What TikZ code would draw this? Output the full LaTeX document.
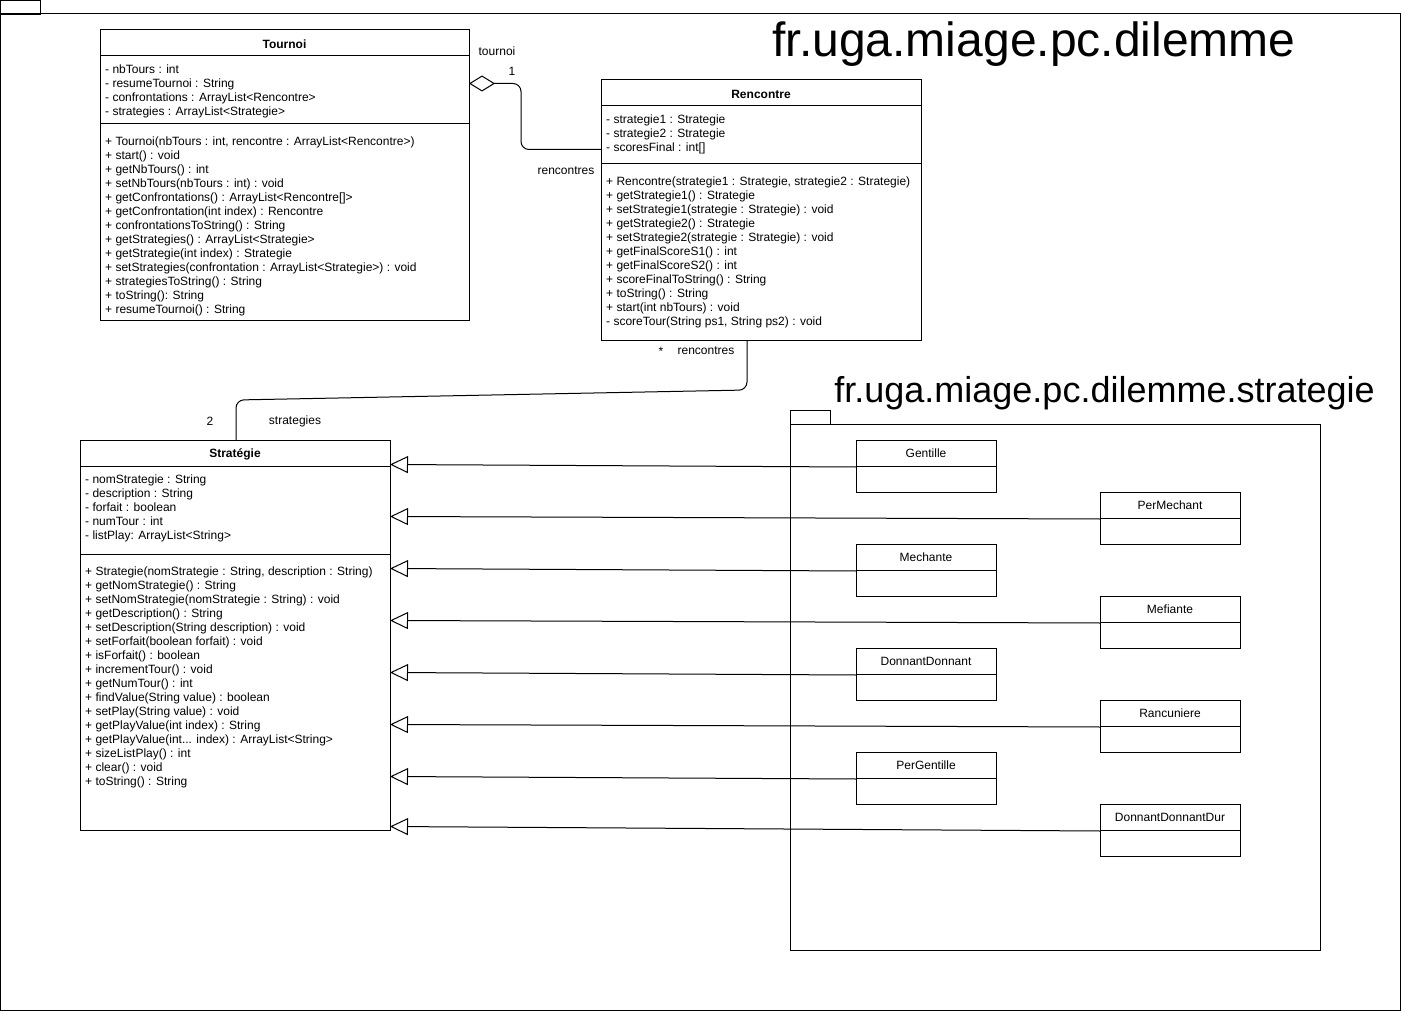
\documentclass[tikz,border=0pt]{standalone}
\usepackage{fontspec}
\setmainfont{Liberation Sans}
\usetikzlibrary{arrows.meta}
\begin{document}
\begin{tikzpicture}[x=1pt,y=-1pt,
  box/.style={draw, line width=1pt, inner sep=0pt, outer sep=0pt, anchor=north west},
  hdr/.style={font=\fontsize{12}{14}\selectfont\bfseries, inner sep=0pt},
  lbl/.style={font=\fontsize{12}{14}\selectfont, inner sep=0pt},
  members/.style={font=\fontsize{12}{14}\selectfont, align=left, inner sep=0pt, anchor=north west},
  sepline/.style={line width=1pt},
  gen/.style={line width=1pt, -{Triangle[open, length=18pt, width=17pt, fill=white]}},
  agg/.style={line width=1pt, rounded corners=8pt, {Diamond[open, length=26pt, width=16pt, fill=white]}-},
  assoc/.style={line width=1pt, rounded corners=8pt},
  small/.style={box, minimum width=140pt, minimum height=52pt}
]
\useasboundingbox (0,0) rectangle (1401,1011);

% outer package
\node[box, minimum width=40pt, minimum height=14pt] (tab1) at (0,0.5) {};
\node[box, minimum width=1400pt, minimum height=996pt] (pkg1) at (0,14) {};
\node[font=\fontsize{48}{48}\selectfont, inner sep=0pt, anchor=base] (title1) at (1034,57) {fr.uga.miage.pc.dilemme};

% Tournoi
\node[box, minimum width=369pt, minimum height=290pt] (tournoi) at (100,30) {};
\node[hdr] (tournoiH) at (284.5,44) {Tournoi};
\draw[sepline] (100,56) -- (469,56);
\draw[sepline] (100,124) -- (469,124);
\node[members] (tournoiA) at (105,64.5) {- nbTours : int\\
- resumeTournoi : String\\
- confrontations : ArrayList<Rencontre>\\
- strategies : ArrayList<Strategie>};
\node[members] (tournoiM) at (105,136.5) {+ Tournoi(nbTours : int, rencontre : ArrayList<Rencontre>)\\
+ start() : void\\
+ getNbTours() : int\\
+ setNbTours(nbTours : int) : void\\
+ getConfrontations() : ArrayList<Rencontre{[]}>\\
+ getConfrontation(int index) : Rencontre\\
+ confrontationsToString() : String\\
+ getStrategies() : ArrayList<Strategie>\\
+ getStrategie(int index) : Strategie\\
+ setStrategies(confrontation : ArrayList<Strategie>) : void\\
+ strategiesToString() : String\\
+ toString(): String\\
+ resumeTournoi() : String};

% Rencontre
\node[box, minimum width=320pt, minimum height=260pt] (rencontre) at (601,80) {};
\node[hdr] (rencontreH) at (761,94) {Rencontre};
\draw[sepline] (601,106) -- (921,106);
\draw[sepline] (601,164) -- (921,164);
\node[members] (rencontreA) at (606,114.5) {- strategie1 : Strategie\\
- strategie2 : Strategie\\
- scoresFinal : int{[]}};
\node[members] (rencontreM) at (606,176.5) {+ Rencontre(strategie1 : Strategie, strategie2 : Strategie)\\
+ getStrategie1() : Strategie\\
+ setStrategie1(strategie : Strategie) : void\\
+ getStrategie2() : Strategie\\
+ setStrategie2(strategie : Strategie) : void\\
+ getFinalScoreS1() : int\\
+ getFinalScoreS2() : int\\
+ scoreFinalToString() : String\\
+ toString() : String\\
+ start(int nbTours) : void\\
- scoreTour(String ps1, String ps2) : void};

% Strategie
\node[box, minimum width=310pt, minimum height=390pt] (strat) at (80,440) {};
\node[hdr] (stratH) at (235,454) {Stratégie};
\draw[sepline] (80,466) -- (390,466);
\draw[sepline] (80,554) -- (390,554);
\node[members] (stratA) at (85,474.5) {- nomStrategie : String\\
- description : String\\
- forfait : boolean\\
- numTour : int\\
- listPlay: ArrayList<String>};
\node[members] (stratM) at (85,566.5) {+ Strategie(nomStrategie : String, description : String)\\
+ getNomStrategie() : String\\
+ setNomStrategie(nomStrategie : String) : void\\
+ getDescription() : String\\
+ setDescription(String description) : void\\
+ setForfait(boolean forfait) : void\\
+ isForfait() : boolean\\
+ incrementTour() : void\\
+ getNumTour() : int\\
+ findValue(String value) : boolean\\
+ setPlay(String value) : void\\
+ getPlayValue(int index) : String\\
+ getPlayValue(int... index) : ArrayList<String>\\
+ sizeListPlay() : int\\
+ clear() : void\\
+ toString() : String};

% strategie package
\node[box, minimum width=40pt, minimum height=14pt] (tab2) at (790,410) {};
\node[box, minimum width=530pt, minimum height=526pt] (pkg2) at (790,424) {};
\node[font=\fontsize{36}{36}\selectfont, inner sep=0pt, anchor=base] (title2) at (1104.5,402) {fr.uga.miage.pc.dilemme.strategie};

% small classes
\node[small] (gentille) at (856,440) {};
\node[lbl] at (926,453.5) {Gentille};
\draw[sepline] (856,466) -- (996,466);
\node[small] (permechant) at (1100,492) {};
\node[lbl] at (1170,505.5) {PerMechant};
\draw[sepline] (1100,518) -- (1240,518);
\node[small] (mechante) at (856,544) {};
\node[lbl] at (926,557.5) {Mechante};
\draw[sepline] (856,570) -- (996,570);
\node[small] (mefiante) at (1100,596) {};
\node[lbl] at (1170,609.5) {Mefiante};
\draw[sepline] (1100,622) -- (1240,622);
\node[small] (donnant) at (856,648) {};
\node[lbl] at (926,661.5) {DonnantDonnant};
\draw[sepline] (856,674) -- (996,674);
\node[small] (rancuniere) at (1100,700) {};
\node[lbl] at (1170,713.5) {Rancuniere};
\draw[sepline] (1100,726) -- (1240,726);
\node[small] (pergentille) at (856,752) {};
\node[lbl] at (926,765.5) {PerGentille};
\draw[sepline] (856,778) -- (996,778);
\node[small] (donnantdur) at (1100,804) {};
\node[lbl] at (1170,817.5) {DonnantDonnantDur};
\draw[sepline] (1100,830) -- (1240,830);

% generalizations
\draw[gen] ([yshift=-1pt]gentille.west) -- ([yshift=-24.5pt]strat.north east);
\draw[gen] ([yshift=-1pt]permechant.west) -- ([yshift=-76.5pt]strat.north east);
\draw[gen] ([yshift=-1pt]mechante.west) -- ([yshift=-128.5pt]strat.north east);
\draw[gen] ([yshift=-1pt]mefiante.west) -- ([yshift=-180.5pt]strat.north east);
\draw[gen] ([yshift=-1pt]donnant.west) -- ([yshift=-232.5pt]strat.north east);
\draw[gen] ([yshift=-1pt]rancuniere.west) -- ([yshift=-284.5pt]strat.north east);
\draw[gen] ([yshift=-1pt]pergentille.west) -- ([yshift=-336.5pt]strat.north east);
\draw[gen] ([yshift=-1pt]donnantdur.west) -- ([yshift=-386.5pt]strat.north east);

% aggregation Tournoi <>-- Rencontre
\draw[agg] ([yshift=-53.5pt]tournoi.north east) -- ++(52,0) -- ++(0,66) -- ([yshift=-69.5pt]rencontre.north west);
\node[lbl] (lTournoi) at (497,51) {tournoi};
\node[lbl] (lOne) at (512,71) {1};
\node[lbl] (lRenc1) at (566,171) {rencontres};

% association Rencontre -- Strategie
\draw[assoc] ([xshift=-14pt]rencontre.south) -- ++(0,50) -- ([xshift=1pt,yshift=40pt]strat.north) -- ([xshift=1pt]strat.north);
\node[lbl] (lStar) at (661,351) {*};
\node[lbl] (lRenc2) at (706,351) {rencontres};
\node[lbl] (lTwo) at (210,421) {2};
\node[lbl] (lStrat) at (295,421) {strategies};
\end{tikzpicture}
\end{document}
